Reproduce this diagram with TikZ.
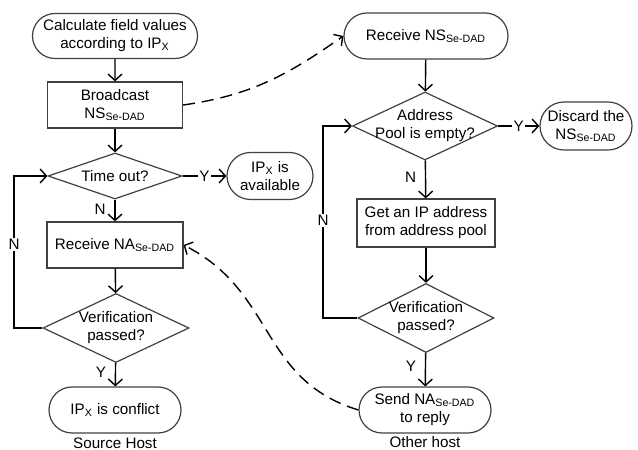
\documentclass[tikz,border=0pt]{standalone}
\usepackage{fontspec}
\setmainfont{Liberation Sans}
\usepackage{tikz}
\usetikzlibrary{positioning, calc, shapes.geometric, shapes.misc, arrows.meta}

\tikzset{
  terminal/.style={rounded rectangle, draw=black!75, line width=0.6pt, align=center, inner sep=1pt},
  process/.style={rectangle, draw=black!75, line width=0.6pt, align=center, inner sep=1pt},
  decision/.style={diamond, draw=black!75, line width=0.6pt, aspect=3, inner sep=0pt},
  flow/.style={line width=0.7pt, -{Straight Barb[length=3.2pt, width=7pt]}},
  msg/.style={flow, dash pattern=on 6pt off 3.5pt},
  tag/.style={fill=white, inner sep=0.6pt},
}

\begin{document}
\begin{tikzpicture}[x=0.5pt, y=0.5pt, font=\fontsize{7.6pt}{9pt}\selectfont]
        \useasboundingbox (0,0) rectangle (638,450);

        % source host
        \node[terminal, minimum width=84.5pt, minimum height=22.5pt] (calc) at (115,414) {Calculate field values\\according to IP\textsubscript{X}};
        \node[process, minimum width=67.5pt, minimum height=23pt] (bcast) at (115,345) {Broadcast\\NS\textsubscript{Se-DAD}};
        \node[decision, minimum width=67pt, minimum height=23pt, label={center:Time out?}] (tout) at (115,274) {};
        \node[terminal, minimum width=45pt, minimum height=23.5pt] (avail) at (270,274) {IP\textsubscript{X} is\\available};
        \node[process, minimum width=68pt, minimum height=23pt] (recvna) at (115,205) {Receive NA\textsubscript{Se-DAD}};
        \node[decision, minimum width=73pt, minimum height=34.5pt, label={[align=center]center:Verification\\passed?}] (verl) at (116,122) {};
        \node[terminal, minimum width=68pt, minimum height=23pt] (confl) at (115,40) {IP\textsubscript{X} is conflict};
        \node (srchost) at (115,7) {Source Host};

        % other host
        \node[terminal, minimum width=84pt, minimum height=23pt] (recvns) at (426,414) {Receive NS\textsubscript{Se-DAD}};
        \node[decision, minimum width=72.5pt, minimum height=34pt, label={[align=center]center:Address\\Pool is empty?}] (pool) at (425,324) {};
        \node[terminal, minimum width=48pt, minimum height=24pt] (discard) at (586,324) {Discard the\\NS\textsubscript{Se-DAD}};
        \node[process, minimum width=69pt, minimum height=24pt] (getip) at (426,227) {Get an IP address\\from address pool};
        \node[decision, minimum width=68pt, minimum height=34.5pt, label={[align=center]center:Verification\\passed?}] (verr) at (426,132) {};
        \node[terminal, minimum width=68pt, minimum height=23pt] (sendna) at (425,40) {Send NA\textsubscript{Se-DAD}\\to reply};
        \node (othhost) at (425,8) {Other host};

        \coordinate (lloopb) at (14,122);
        \coordinate (lloopt) at (14,274);
        \coordinate (rloopb) at (323,132);
        \coordinate (rloopt) at (323,324);

        % left flow
        \draw[flow] (calc) -- (bcast);
        \draw[flow] (bcast) -- (tout);
        \draw[flow] (tout) -- node[pos=0.45, left=1pt] {N} (recvna);
        \draw[flow] (tout) -- node[tag] {Y} (avail);
        \draw[flow] (recvna) -- (verl);
        \draw[flow] (verl) -- node[pos=0.4, left=1pt] {Y} (confl);
        \draw[flow] (verl.west) -- (lloopb) -- node[tag, pos=0.55] {N} (lloopt) -- (tout.west);

        % right flow
        \draw[flow] (recvns) -- (pool);
        \draw[flow] (pool) -- node[tag] {Y} (discard);
        \draw[flow] (pool) -- node[pos=0.45, left=1pt] {N} (getip);
        \draw[flow] (getip) -- (verr);
        \draw[flow] (verr) -- node[pos=0.4, left=1pt] {Y} (sendna);
        \draw[flow] (verr.west) -- (rloopb) -- node[tag, pos=0.51] {N} (rloopt) -- (pool.west);

        % messages
        \draw[msg] (bcast.east) to[out=8, in=215] (recvns.west);
        \draw[msg] (sendna.west) to[out=163, in=-27, looseness=1.1] (recvna.east);
    \end{tikzpicture}
\end{document}
